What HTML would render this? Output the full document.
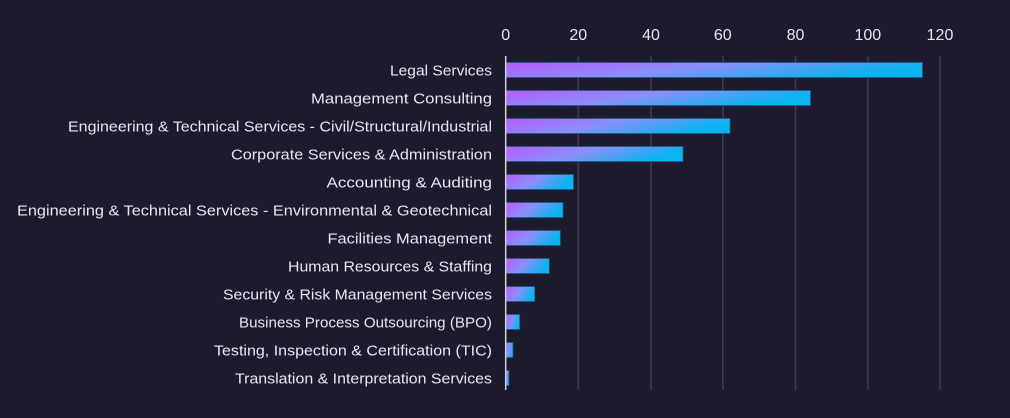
<!DOCTYPE html>
<html><head><meta charset="utf-8"><style>
html,body{margin:0;padding:0;background:#1c1a2d;}
svg{display:block;}
text{font-family:"Liberation Sans","DejaVu Sans",sans-serif;fill:#e8e7ef;}
</style></head><body>
<svg width="1010" height="418" viewBox="0 0 1010 418" xmlns="http://www.w3.org/2000/svg">
<defs>
<linearGradient id="g" x1="0" y1="0" x2="1" y2="0.3">
<stop offset="0" stop-color="#b65cff"/>
<stop offset="0.5" stop-color="#8a8ff8"/>
<stop offset="1" stop-color="#0ab4f0"/>
</linearGradient>
</defs>
<rect width="1010" height="418" fill="#1c1a2d"/>
<g stroke="#3c3a52" stroke-width="1.5">
<line x1="578.3" y1="56" x2="578.3" y2="390"/>
<line x1="651" y1="56" x2="651" y2="390"/>
<line x1="722.8" y1="56" x2="722.8" y2="390"/>
<line x1="795.5" y1="56" x2="795.5" y2="390"/>
<line x1="867.8" y1="56" x2="867.8" y2="390"/>
<line x1="940" y1="56" x2="940" y2="390"/>
</g>
<g font-size="16" text-anchor="middle">
<text x="505.7" y="40">0</text>
<text x="578.3" y="40">20</text>
<text x="651" y="40">40</text>
<text x="722.8" y="40">60</text>
<text x="795.5" y="40">80</text>
<text x="867.8" y="40">100</text>
<text x="940" y="40">120</text>
</g>
<g fill="url(#g)" stroke="#1e5a86" stroke-width="0.8">
<rect x="506" y="62.5" width="416.5" height="15"/>
<rect x="506" y="90.5" width="304.5" height="15"/>
<rect x="506" y="118.5" width="224" height="15"/>
<rect x="506" y="146.5" width="177" height="15"/>
<rect x="506" y="174.5" width="67.5" height="15"/>
<rect x="506" y="202.5" width="57" height="15"/>
<rect x="506" y="230.5" width="54.3" height="15"/>
<rect x="506" y="258.5" width="43.3" height="15"/>
<rect x="506" y="286.5" width="28.7" height="15"/>
<rect x="506" y="314.5" width="13.7" height="15"/>
<rect x="506" y="342.5" width="7" height="15"/>
<rect x="506" y="370.5" width="3" height="15"/>
</g>
<line x1="505.7" y1="56" x2="505.7" y2="390" stroke="#d0d0d8" stroke-width="1.5"/>
<g font-size="14.5" text-anchor="end" lengthAdjust="spacingAndGlyphs">
<text x="492" y="75.5" textLength="102" lengthAdjust="spacingAndGlyphs">Legal Services</text>
<text x="492" y="103.5" textLength="181" lengthAdjust="spacingAndGlyphs">Management Consulting</text>
<text x="492" y="131.5" textLength="424" lengthAdjust="spacingAndGlyphs">Engineering &amp; Technical Services - Civil/Structural/Industrial</text>
<text x="492" y="159.5" textLength="261" lengthAdjust="spacingAndGlyphs">Corporate Services &amp; Administration</text>
<text x="492" y="187.5" textLength="165.5" lengthAdjust="spacingAndGlyphs">Accounting &amp; Auditing</text>
<text x="492" y="215.5" textLength="475" lengthAdjust="spacingAndGlyphs">Engineering &amp; Technical Services - Environmental &amp; Geotechnical</text>
<text x="492" y="243.5" textLength="164.5" lengthAdjust="spacingAndGlyphs">Facilities Management</text>
<text x="492" y="271.5" textLength="204" lengthAdjust="spacingAndGlyphs">Human Resources &amp; Staffing</text>
<text x="492" y="299.5" textLength="269" lengthAdjust="spacingAndGlyphs">Security &amp; Risk Management Services</text>
<text x="492" y="327.5" textLength="253" lengthAdjust="spacingAndGlyphs">Business Process Outsourcing (BPO)</text>
<text x="492" y="355.5" textLength="278" lengthAdjust="spacingAndGlyphs">Testing, Inspection &amp; Certification (TIC)</text>
<text x="492" y="383.5" textLength="257" lengthAdjust="spacingAndGlyphs">Translation &amp; Interpretation Services</text>
</g>
</svg>
</body></html>
